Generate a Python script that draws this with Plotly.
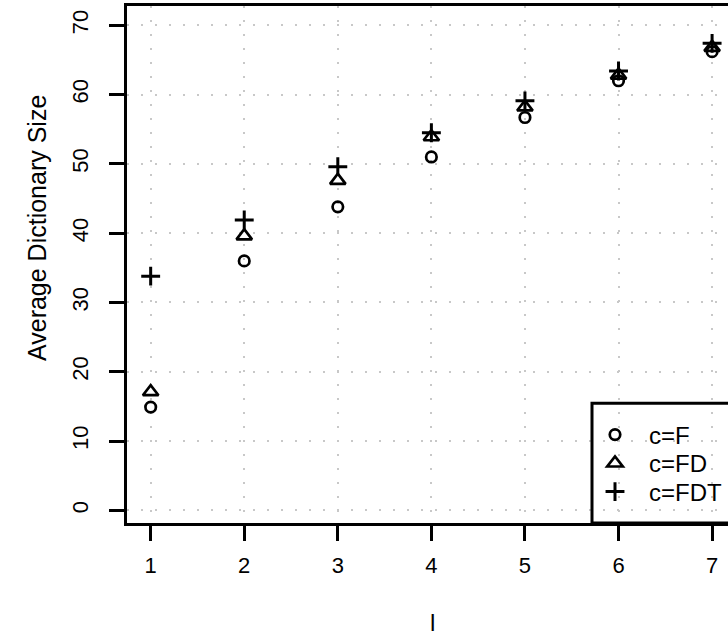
import plotly.graph_objects as go

# ---- data ----
l_values = [1, 2, 3, 4, 5, 6, 7]
size_F = [14.9, 36.0, 43.8, 51.0, 56.7, 62.0, 66.2]
size_FD = [17.1, 39.6, 47.6, 53.9, 58.2, 62.8, 66.8]
size_FDT = [33.8, 41.9, 49.6, 54.5, 59.1, 63.4, 67.4]
series_names = ["c=F", "c=FD", "c=FDT"]
x_ticks = [1, 2, 3, 4, 5, 6, 7]
y_ticks = [0, 10, 20, 30, 40, 50, 60, 70]
x_title = "l"
y_title = "Average Dictionary Size"

FONT = "Liberation Sans, Arial, Helvetica, sans-serif"
W, H = 728, 638
ML, MR, MT, MB = 127, 0, 6, 115
PW = W - ML - MR
PH = H - MT - MB


def px_x(p):
    return (p - ML) / PW


def px_y(p):
    return (H - MB - p) / PH


fig = go.Figure()
styles = [
    dict(symbol="circle-open", size=10.5, line=dict(width=2.7, color="black")),
    dict(symbol="triangle-up-open", size=13.5, line=dict(width=2.7, color="black")),
    dict(symbol="cross-thin-open", size=13.5, line=dict(width=3, color="black")),
]
series = [size_F, size_FD, size_FDT]
legend_ids = ["legend", "legend2", "legend3"]
for name, vals, st, lg in zip(series_names, series, styles, legend_ids):
    fig.add_trace(go.Scatter(
        x=l_values, y=vals, mode="markers", name=name,
        marker=dict(color="black", **st), legend=lg,
    ))

row_px = [435, 463.5, 492]
leg_common = dict(
    bgcolor="rgba(0,0,0,0)", borderwidth=0, itemwidth=58,
    font=dict(family=FONT, size=24, color="black"),
    xanchor="left", yanchor="middle", x=px_x(581),
)

fig.update_layout(
    width=W, height=H,
    margin=dict(l=ML, r=MR, t=MT, b=MB, pad=0),
    paper_bgcolor="white", plot_bgcolor="white",
    font=dict(family=FONT, size=22, color="black"),
    showlegend=True,
    legend=dict(**leg_common, y=px_y(row_px[0])),
    legend2=dict(**leg_common, y=px_y(row_px[1])),
    legend3=dict(**leg_common, y=px_y(row_px[2])),
    xaxis=dict(
        range=[0.747, 7.17], tickmode="array", tickvals=x_ticks,
        ticktext=[str(v) for v in x_ticks],
        showgrid=True, gridcolor="#c8c8c8", gridwidth=2, griddash="2px,12px",
        zeroline=False, showline=True, linecolor="black", linewidth=3, mirror=True,
        ticks="outside", ticklen=15, tickwidth=3, tickcolor="black",
        tickfont=dict(size=22), ticklabelstandoff=6,
    ),
    yaxis=dict(
        range=[-1.83, 72.79], tickmode="array", tickvals=y_ticks,
        ticktext=[str(v) for v in y_ticks], tickangle=-90,
        showgrid=True, gridcolor="#c8c8c8", gridwidth=2, griddash="2px,12px",
        zeroline=False, showline=True, linecolor="black", linewidth=3, mirror=False,
        ticks="outside", ticklen=15, tickwidth=3, tickcolor="black",
        tickfont=dict(size=22), ticklabelstandoff=12,
    ),
    shapes=[dict(
        type="rect", xref="paper", yref="paper",
        x0=px_x(592), x1=1.05, y0=0, y1=px_y(403.3),
        line=dict(color="black", width=3), fillcolor="rgba(0,0,0,0)",
    )],
    annotations=[
        dict(
            text=x_title, xref="paper", yref="paper",
            x=px_x(432), y=px_y(622), xanchor="center", yanchor="middle",
            showarrow=False, font=dict(size=24),
        ),
        dict(
            text=y_title, xref="paper", yref="paper", textangle=-90,
            x=px_x(37), y=px_y(228), xanchor="center", yanchor="middle",
            showarrow=False, font=dict(size=25),
        ),
    ],
)

fig.write_html("out.html")
